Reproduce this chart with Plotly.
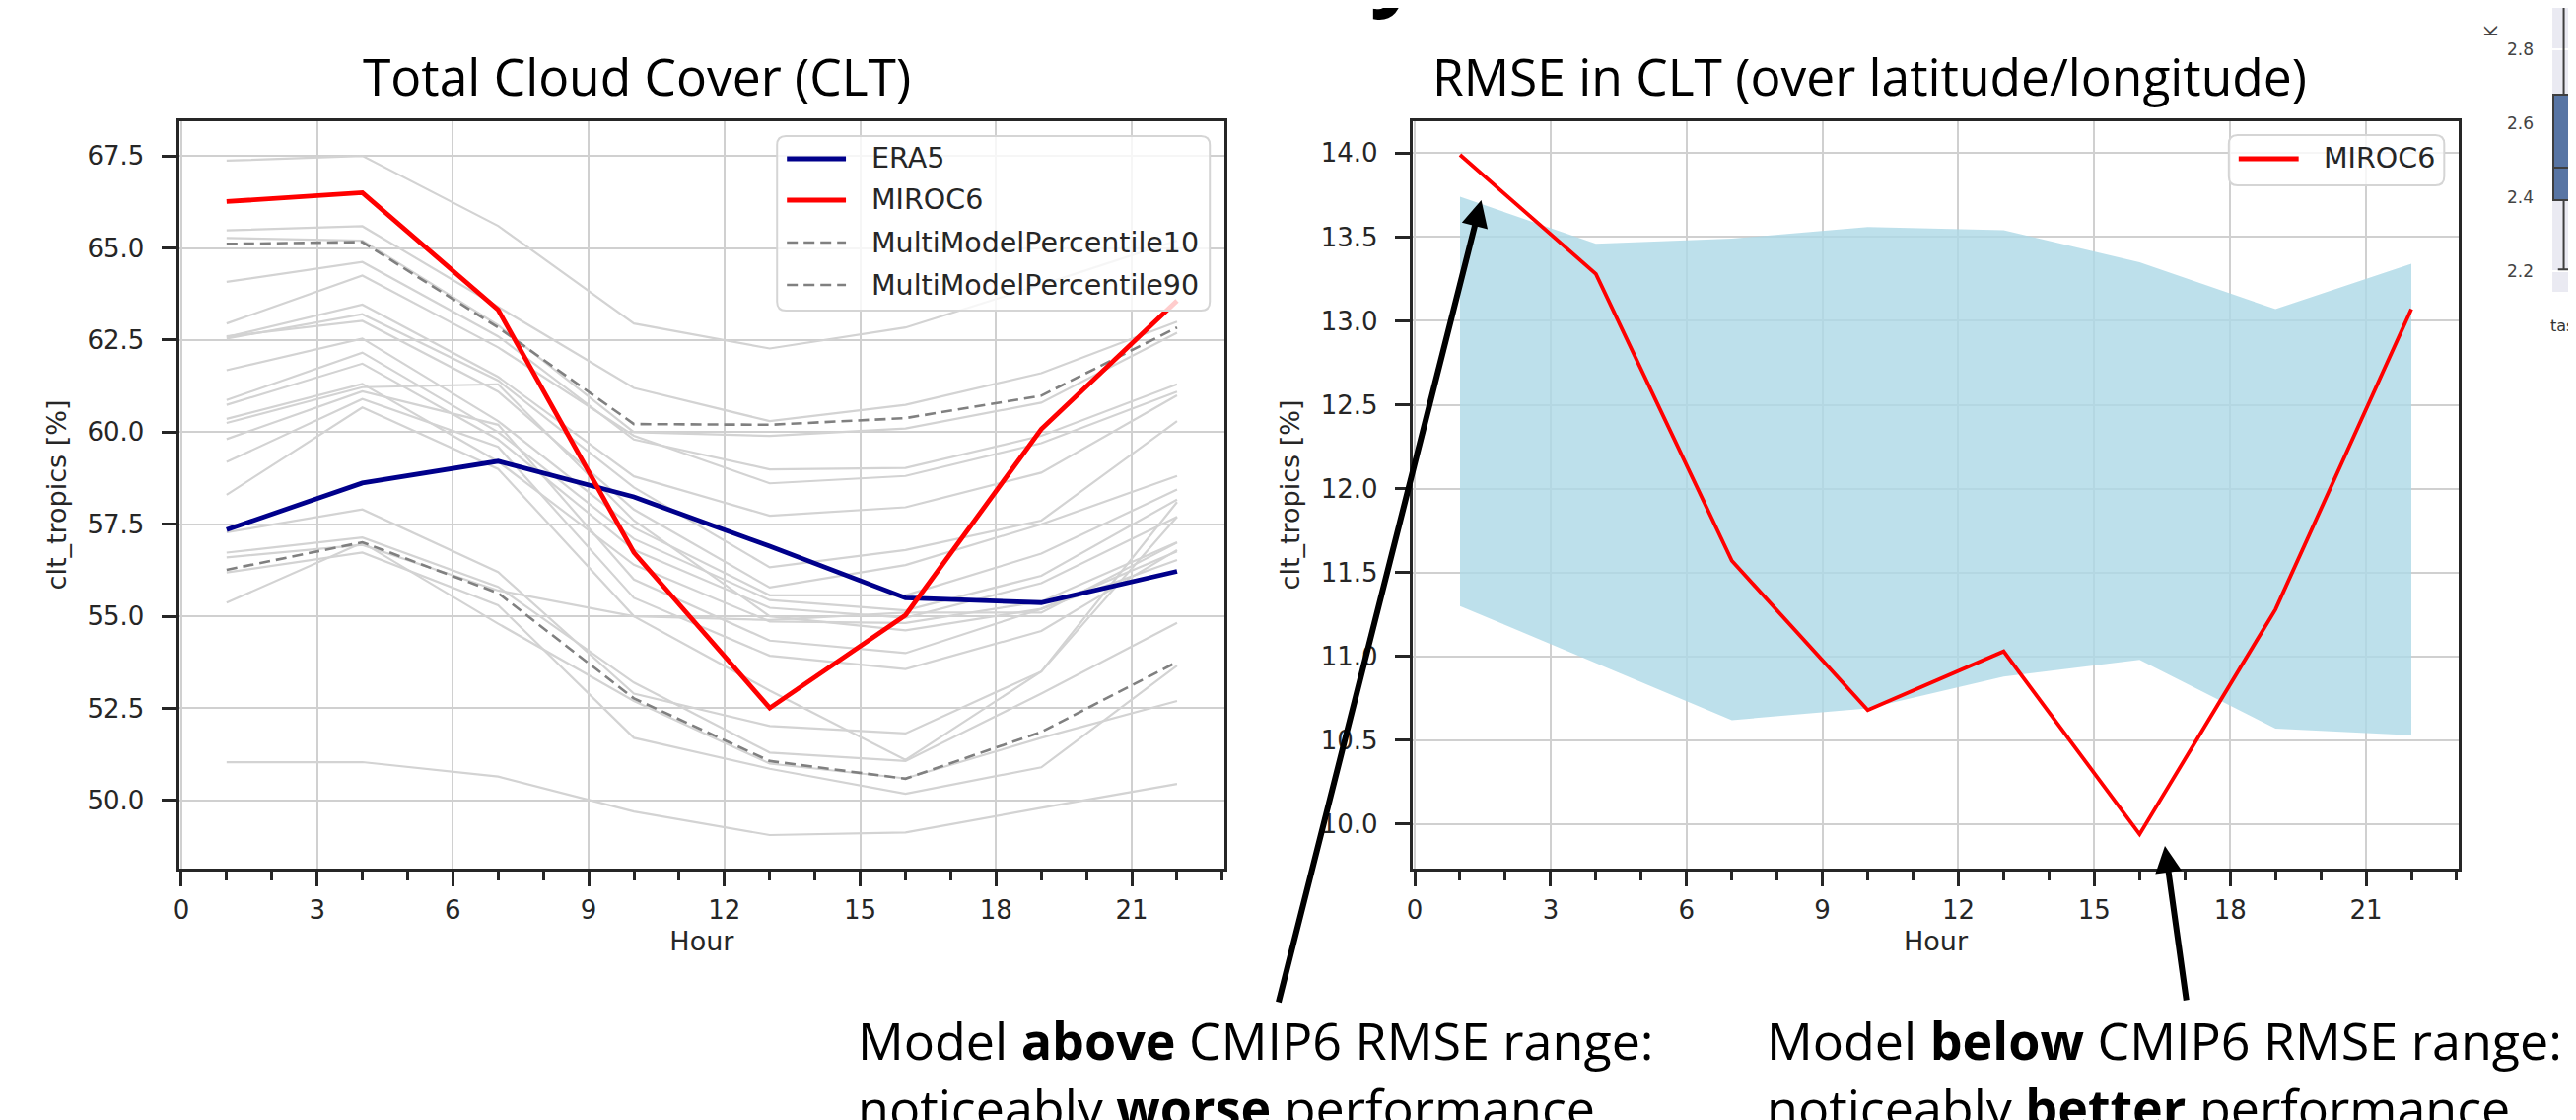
import plotly.graph_objects as go

W, H = 2613, 1136

hours = [1, 4, 7, 10, 13, 16, 19, 22]

era5 = [57.35, 58.62, 59.21, 58.24, 56.90, 55.50, 55.37, 56.22]
miroc6 = [66.26, 66.50, 63.32, 56.73, 52.51, 55.03, 60.08, 63.57]
p10 = [56.26, 57.01, 55.63, 52.77, 51.07, 50.59, 51.86, 53.76]
p90 = [65.11, 65.16, 62.84, 60.22, 60.20, 60.38, 60.99, 62.84]

models = [
    [67.37, 67.50, 65.60, 62.95, 62.27, 62.84, 64.00, 65.20],
    [65.48, 65.59, 63.40, 61.20, 60.30, 60.74, 61.60, 63.00],
    [65.27, 65.20, 62.90, 60.00, 59.90, 60.10, 60.80, 62.70],
    [64.08, 64.62, 62.60, 59.80, 58.99, 59.03, 59.90, 61.30],
    [62.95, 64.25, 62.30, 59.90, 58.61, 58.81, 59.70, 61.10],
    [62.58, 63.46, 61.50, 58.80, 57.73, 57.96, 58.90, 61.00],
    [62.54, 63.20, 61.40, 58.50, 56.33, 56.80, 57.60, 60.30],
    [62.60, 63.02, 61.10, 57.90, 55.78, 56.39, 57.50, 58.81],
    [61.68, 62.54, 60.30, 57.40, 55.57, 55.57, 56.70, 58.44],
    [60.87, 62.16, 60.00, 57.10, 55.44, 55.16, 56.10, 58.17],
    [60.74, 61.86, 59.80, 56.80, 55.23, 54.96, 55.90, 57.70],
    [60.36, 61.31, 59.20, 56.40, 54.86, 54.82, 55.40, 57.01],
    [60.25, 61.22, 61.30, 57.60, 55.00, 54.62, 55.20, 56.76],
    [59.81, 61.11, 60.20, 56.00, 54.34, 54.00, 55.20, 56.53],
    [59.19, 60.90, 59.60, 55.50, 53.93, 53.57, 54.60, 56.80],
    [58.30, 60.67, 59.00, 55.00, 52.98, 51.10, 53.50, 58.10],
    [57.28, 57.90, 56.20, 52.90, 52.02, 51.82, 53.50, 57.70],
    [56.73, 57.14, 55.80, 53.20, 51.30, 51.07, 52.90, 54.82],
    [56.60, 56.94, 55.70, 55.00, 54.90, 55.10, 55.10, 57.00],
    [56.19, 56.73, 55.30, 51.70, 50.86, 50.18, 50.90, 53.66],
    [55.37, 57.00, 54.80, 52.70, 51.00, 50.60, 51.70, 52.70],
    [51.04, 51.04, 50.65, 49.70, 49.06, 49.13, 49.80, 50.45],
]

rmse_miroc6 = [13.99, 13.28, 11.57, 10.68, 11.03, 9.94, 11.28, 13.07]
rmse_low = [11.30, 10.96, 10.62, 10.69, 10.88, 10.98, 10.57, 10.53]
rmse_high = [13.74, 13.46, 13.49, 13.56, 13.54, 13.35, 13.07, 13.34]

box_cat = ["tas"]
box_q1 = [2.392]
box_median = [2.48]
box_q3 = [2.677]
box_low = [2.205]
box_high = [3.10]

xticks = [0, 3, 6, 9, 12, 15, 18, 21]

legend_left = ["ERA5", "MIROC6", "MultiModelPercentile10", "MultiModelPercentile90"]
legend_right = ["MIROC6"]

TXT = "#262626"
C_ERA5, C_MIROC, C_PCT, C_MODEL = "#00008B", "#FF0000", "#808080", "#d3d3d3"
DASH = "11px,6px"

fig = go.Figure()

for m in models:
    fig.add_trace(go.Scatter(x=hours, y=m, mode="lines", line=dict(color=C_MODEL, width=2.2),
                             showlegend=False, hoverinfo="skip", xaxis="x", yaxis="y"))
fig.add_trace(go.Scatter(x=hours, y=p10, mode="lines", name=legend_left[2],
                         line=dict(color=C_PCT, width=2.6, dash=DASH), showlegend=False,
                         xaxis="x", yaxis="y"))
fig.add_trace(go.Scatter(x=hours, y=p90, mode="lines", name=legend_left[3],
                         line=dict(color=C_PCT, width=2.6, dash=DASH), showlegend=False,
                         xaxis="x", yaxis="y"))
fig.add_trace(go.Scatter(x=hours, y=era5, mode="lines", name=legend_left[0],
                         line=dict(color=C_ERA5, width=4.8), showlegend=False,
                         xaxis="x", yaxis="y"))
fig.add_trace(go.Scatter(x=hours, y=miroc6, mode="lines", name=legend_left[1],
                         line=dict(color=C_MIROC, width=4.8), showlegend=False,
                         xaxis="x", yaxis="y"))

fig.add_trace(go.Scatter(x=hours, y=rmse_low, mode="lines", line=dict(width=0, color="rgba(0,0,0,0)"),
                         showlegend=False, hoverinfo="skip", xaxis="x2", yaxis="y2"))
fig.add_trace(go.Scatter(x=hours, y=rmse_high, mode="lines", line=dict(width=0, color="rgba(0,0,0,0)"),
                         fill="tonexty", fillcolor="rgba(173,216,230,0.8)",
                         showlegend=False, hoverinfo="skip", xaxis="x2", yaxis="y2"))
fig.add_trace(go.Scatter(x=hours, y=rmse_miroc6, mode="lines", name=legend_right[0],
                         line=dict(color=C_MIROC, width=3.8), showlegend=False,
                         xaxis="x2", yaxis="y2"))

fig.add_trace(go.Box(x=box_cat, q1=box_q1, median=box_median, q3=box_q3,
                     lowerfence=box_low, upperfence=box_high, width=0.92, whiskerwidth=0.55,
                     fillcolor="#5875A4", line=dict(color="#3f3f3f", width=2),
                     showlegend=False, hoverinfo="skip", xaxis="x3", yaxis="y3"))


def xax(domain, anchor):
    return dict(domain=domain, anchor=anchor, range=[-0.05, 23.05], tickvals=xticks,
                showline=True, mirror=True, linecolor=TXT, linewidth=3,
                ticks="outside", ticklen=15, tickwidth=3, tickcolor=TXT,
                showgrid=True, gridcolor="#d0d0d0", gridwidth=2, zeroline=False,
                tickfont=dict(family="DejaVu Sans", size=26, color=TXT), ticklabelstandoff=2,
                title=dict(text="Hour", font=dict(family="DejaVu Sans", size=27, color=TXT), standoff=8),
                minor=dict(dtick=1, tick0=0, ticks="outside", ticklen=9, tickwidth=2.5,
                           tickcolor=TXT, showgrid=False))


def yax(domain, anchor, rng, dtick):
    return dict(domain=domain, anchor=anchor, range=rng, dtick=dtick, tickformat=".1f",
                showline=True, mirror=True, linecolor=TXT, linewidth=3,
                ticks="outside", ticklen=15, tickwidth=3, tickcolor=TXT,
                showgrid=True, gridcolor="#d0d0d0", gridwidth=2, zeroline=False,
                tickfont=dict(family="DejaVu Sans", size=26, color=TXT), ticklabelstandoff=12,
                title=dict(text="clt_tropics [%]", font=dict(family="DejaVu Sans", size=27, color=TXT),
                           standoff=14))


ydom = [1 - 873 / H, 1 - 115 / H]


def px(x):
    return x / W


def py(y):
    return 1 - y / H


def rounded_rect(x0, y0, x1, y1, r):
    rx, ry = r / W, r / H
    X0, X1, Y0, Y1 = px(x0), px(x1), py(y0), py(y1)
    return (f"M{X0 + rx},{Y0} L{X1 - rx},{Y0} Q{X1},{Y0} {X1},{Y0 - ry} "
            f"L{X1},{Y1 + ry} Q{X1},{Y1} {X1 - rx},{Y1} L{X0 + rx},{Y1} "
            f"Q{X0},{Y1} {X0},{Y1 + ry} L{X0},{Y0 - ry} Q{X0},{Y0} {X0 + rx},{Y0} Z")


shapes = [dict(type="rect", xref="x3 domain", yref="y3 domain", x0=0, x1=1, y0=0, y1=1,
               fillcolor="#EAEAF2", line=dict(width=0), layer="below")]
annotations = []

# left legend (drawn)
shapes.append(dict(type="path", xref="paper", yref="paper", path=rounded_rect(776, 130, 1216, 307, 9),
                   fillcolor="rgba(255,255,255,0.8)", line=dict(color="#d5d5d5", width=2), layer="above"))
left_styles = [(C_ERA5, 4.8, "solid"), (C_MIROC, 4.8, "solid"), (C_PCT, 2.6, DASH), (C_PCT, 2.6, DASH)]
left_rows = [153, 195, 238, 281]
for name, (col, wd, ds), yy in zip(legend_left, left_styles, left_rows):
    shapes.append(dict(type="line", xref="paper", yref="paper", x0=px(786), x1=px(846), y0=py(yy), y1=py(yy),
                       line=dict(color=col, width=wd, dash=ds), layer="above"))
    annotations.append(dict(text=name, x=px(870), y=py(yy), xref="paper", yref="paper", xanchor="left",
                            yanchor="middle", showarrow=False,
                            font=dict(family="DejaVu Sans", size=28.5, color=TXT)))

# right legend (drawn)
shapes.append(dict(type="path", xref="paper", yref="paper", path=rounded_rect(2252, 129, 2471, 180, 9),
                   fillcolor="rgba(255,255,255,0.8)", line=dict(color="#d5d5d5", width=2), layer="above"))
shapes.append(dict(type="line", xref="paper", yref="paper", x0=px(2262), x1=px(2323), y0=py(153), y1=py(153),
                   line=dict(color=C_MIROC, width=4.8), layer="above"))
annotations.append(dict(text=legend_right[0], x=px(2346), y=py(153), xref="paper", yref="paper",
                        xanchor="left", yanchor="middle", showarrow=False,
                        font=dict(family="DejaVu Sans", size=28.5, color=TXT)))

fig.update_layout(
    width=W, height=H, margin=dict(l=0, r=0, t=0, b=0),
    paper_bgcolor="white", plot_bgcolor="white", showlegend=False,
    xaxis=xax([px(168), px(1231)], "y"),
    yaxis=yax(ydom, "x", [48.15, 68.44], 2.5),
    xaxis2=xax([px(1422), px(2486)], "y2"),
    yaxis2=yax(ydom, "x2", [9.735, 14.19], 0.5),
    xaxis3=dict(domain=[px(2581), px(2604)], anchor="y3", type="category", range=[-0.5, 0.5],
                showline=False, ticks="", showgrid=False, showticklabels=False),
    yaxis3=dict(domain=[1 - 288 / H, 1], anchor="x3", range=[2.144, 2.912], dtick=0.2,
                tickformat=".1f", showline=False, ticks="", showgrid=True, gridcolor="white",
                gridwidth=2, zeroline=False, ticklabelstandoff=18,
                tickfont=dict(family="DejaVu Sans", size=17, color="#444444")),
    shapes=shapes,
)

TF = "Open Sans"
annotations += [
    dict(text="K", x=px(2519), y=py(23), xref="paper", yref="paper", textangle=-90,
         xanchor="center", yanchor="middle", showarrow=False,
         font=dict(family="DejaVu Sans", size=17, color="#444444")),
    dict(text=box_cat[0], x=px(2591), y=py(322), xref="paper", yref="paper",
         xanchor="center", yanchor="middle", showarrow=False,
         font=dict(family="DejaVu Sans", size=16, color="#333333")),
    dict(text="Total Cloud Cover (CLT)", x=px(633), y=py(69), xref="paper", yref="paper",
         xanchor="center", yanchor="middle", showarrow=False, font=dict(family=TF, size=51.5, color="black")),
    dict(text="RMSE in CLT (over latitude/longitude)", x=px(1887), y=py(69), xref="paper", yref="paper",
         xanchor="center", yanchor="middle", showarrow=False, font=dict(family=TF, size=51.5, color="black")),
    dict(text="<b>Diurnal Cycle</b>", x=px(1260), y=py(18), xref="paper", yref="paper",
         xanchor="center", yanchor="bottom", showarrow=False, font=dict(family=TF, size=90, color="black")),
    dict(text="Model <b>above</b> CMIP6 RMSE range:<br>noticeably <b>worse</b> performance",
         x=px(856), y=py(1080), xref="paper", yref="paper", align="left",
         xanchor="left", yanchor="middle", showarrow=False, font=dict(family=TF, size=52, color="black")),
    dict(text="Model <b>below</b> CMIP6 RMSE range:<br>noticeably <b>better</b> performance",
         x=px(1780), y=py(1080), xref="paper", yref="paper", align="left",
         xanchor="left", yanchor="middle", showarrow=False, font=dict(family=TF, size=52, color="black")),
    dict(text="", x=px(1492), y=py(195), xref="paper", yref="paper", showarrow=True,
         ax=-206, ay=815, axref="pixel", ayref="pixel", arrowhead=2, arrowsize=0.9, arrowwidth=6,
         arrowcolor="black", standoff=0, startstandoff=0),
    dict(text="", x=px(2187), y=py(850), xref="paper", yref="paper", showarrow=True,
         ax=22, ay=158, axref="pixel", ayref="pixel", arrowhead=2, arrowsize=0.9, arrowwidth=6,
         arrowcolor="black", standoff=0, startstandoff=0),
]
fig.update_layout(annotations=annotations)

fig.write_html("out.html")
